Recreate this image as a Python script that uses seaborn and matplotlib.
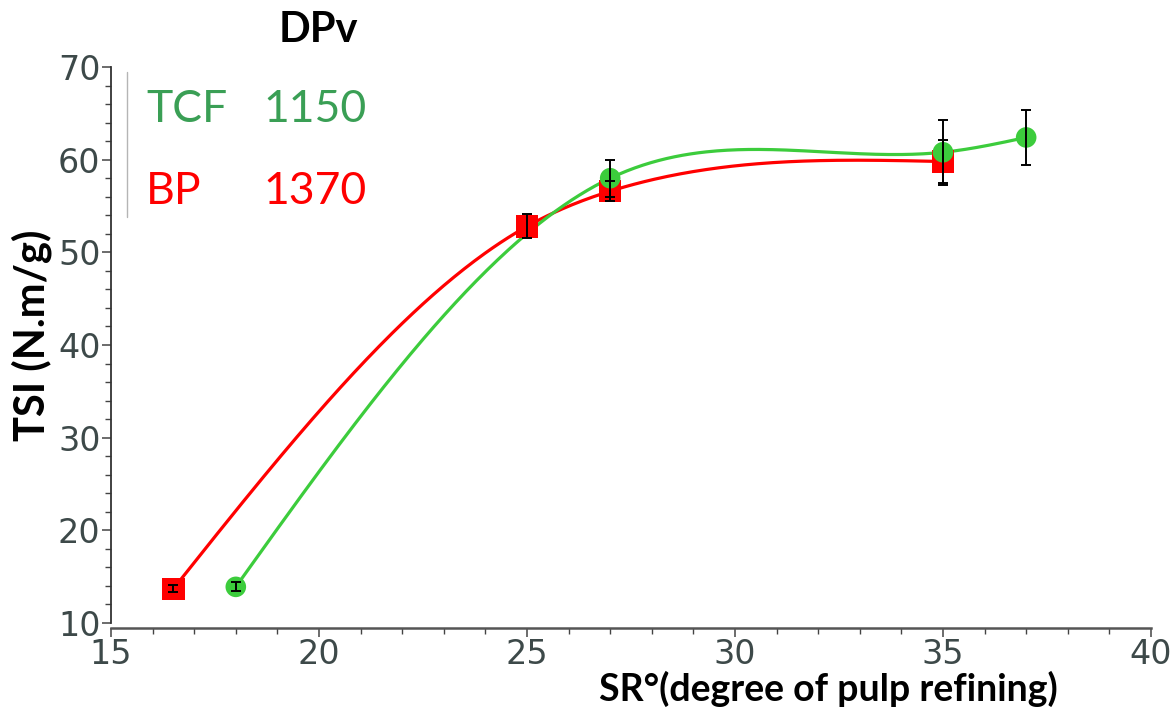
import numpy as np
import pandas as pd
import matplotlib
matplotlib.use("Agg")
import matplotlib.pyplot as plt
import seaborn as sns
from matplotlib.ticker import MultipleLocator

# values
bp_sr = [16.5, 25, 27, 35]
bp_tsi = [13.7, 52.8, 56.6, 59.8]
bp_err = [0.4, 1.3, 1.1, 2.3]

tcf_sr = [18, 27, 35, 37]
tcf_tsi = [13.9, 58.0, 60.8, 62.4]
tcf_err = [0.5, 2.0, 3.5, 3.0]

dpv_names = ["TCF", "BP"]
dpv_values = ["1150", "1370"]

RED = "#ff0000"
GREEN_LINE = "#3ccc3c"
GREEN_TEXT = "#3a9f55"
TICK_COLOR = "#3d4949"


def natural_spline(x, y, n=300):
    """Natural cubic spline through the data points (smoothed connector)."""
    x = np.asarray(x, float)
    y = np.asarray(y, float)
    k = len(x)
    h = np.diff(x)
    d = np.diff(y) / h
    A = np.zeros((k, k))
    b = np.zeros(k)
    A[0, 0] = A[-1, -1] = 1
    for i in range(1, k - 1):
        A[i, i - 1] = h[i - 1]
        A[i, i] = 2 * (h[i - 1] + h[i])
        A[i, i + 1] = h[i]
        b[i] = 6 * (d[i] - d[i - 1])
    M = np.linalg.solve(A, b)
    xs = np.linspace(x[0], x[-1], n)
    idx = np.clip(np.searchsorted(x, xs) - 1, 0, k - 2)
    hi = h[idx]
    u = (xs - x[idx]) / hi
    a = 1 - u
    ys = (a * y[idx] + u * y[idx + 1]
          + (a ** 3 - a) * hi ** 2 / 6 * M[idx]
          + (u ** 3 - u) * hi ** 2 / 6 * M[idx + 1])
    return pd.DataFrame({"SR": xs, "TSI": ys})


sns.set_style("ticks")
plt.rcParams["font.family"] = ["Lato", "DejaVu Sans"]
plt.rcParams["text.color"] = "black"

fig = plt.figure(figsize=(11.76, 7.26), dpi=100)
ax = fig.add_axes([0.0944, 0.1355, 0.8843, 0.7722])

bp = pd.DataFrame({"SR": bp_sr, "TSI": bp_tsi})
tcf = pd.DataFrame({"SR": tcf_sr, "TSI": tcf_tsi})

sns.lineplot(data=natural_spline(bp_sr, bp_tsi), x="SR", y="TSI", color=RED,
             linewidth=2.3, ax=ax, zorder=2)
sns.lineplot(data=natural_spline(tcf_sr, tcf_tsi), x="SR", y="TSI",
             color=GREEN_LINE, linewidth=2.3, ax=ax, zorder=3)

sns.scatterplot(data=bp, x="SR", y="TSI", marker="s", s=260, color=RED,
                edgecolor="none", ax=ax, zorder=4)
sns.scatterplot(data=tcf, x="SR", y="TSI", marker="o", s=220, color=GREEN_LINE,
                edgecolor="none", ax=ax, zorder=5)

ax.errorbar(bp_sr, bp_tsi, yerr=bp_err, fmt="none", ecolor="black",
            elinewidth=1.4, capsize=3.8, capthick=1.4, zorder=6)
ax.errorbar(tcf_sr, tcf_tsi, yerr=tcf_err, fmt="none", ecolor="black",
            elinewidth=1.4, capsize=3.8, capthick=1.4, zorder=6)

ax.set_xlim(15, 40)
ax.set_ylim(9.5, 70)
ax.xaxis.set_major_locator(MultipleLocator(5))
ax.xaxis.set_minor_locator(MultipleLocator(1))
ax.yaxis.set_major_locator(MultipleLocator(10))
ax.yaxis.set_minor_locator(MultipleLocator(2))
ax.spines["left"].set_bounds(10, 70)
for side in ["top", "right"]:
    ax.spines[side].set_visible(False)
ax.spines["left"].set_color("#333333")
ax.spines["bottom"].set_color("#555555")
ax.spines["left"].set_linewidth(1.3)
ax.spines["bottom"].set_linewidth(1.8)

tick_font = ["Liberation Sans Narrow", "DejaVu Sans"]
ax.tick_params(which="major", length=6.5, width=1.1, color="#444444",
               labelsize=24, labelcolor=TICK_COLOR, pad=1)
ax.tick_params(which="minor", length=4.3, width=1.0, color="#444444")
for lbl in ax.get_xticklabels() + ax.get_yticklabels():
    lbl.set_family(tick_font)

ax.set_xlabel("SR°(degree of pulp refining)", fontsize=27, fontweight="bold",
              color="black")
ax.xaxis.set_label_coords(0.69, -0.077)
ax.set_ylabel("TSI (N.m/g)", fontsize=30, fontweight="bold", color="black")
ax.yaxis.set_label_coords(-0.057, 0.522)

# DPv legend block
fig.text(318 / 1176, 1 - 30 / 726, "DPv", fontsize=30, fontweight="bold",
         color="black", ha="center", va="center")
rows_y = [110, 191]
row_colors = [GREEN_TEXT, RED]
for name, val, yy, col in zip(dpv_names, dpv_values, rows_y, row_colors):
    fig.text(146 / 1176, 1 - yy / 726, name, fontsize=32, color=col,
             ha="left", va="center")
    fig.text(263 / 1176, 1 - yy / 726, val, fontsize=32, color=col,
             ha="left", va="center")
fig.add_artist(plt.Line2D([127 / 1176, 127 / 1176], [1 - 72 / 726, 1 - 217 / 726],
                          color="#b5b5b5", linewidth=1.0))

fig.savefig("out.png", dpi=100)
